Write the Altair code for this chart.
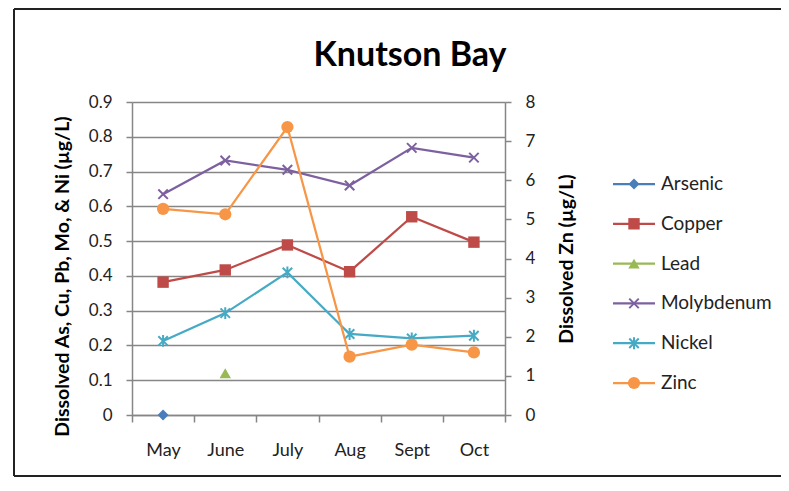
import altair as alt
import pandas as pd

# ---------------- data ----------------
months = ["May", "June", "July", "Aug", "Sept", "Oct"]
series_names = ["Arsenic", "Copper", "Lead", "Molybdenum", "Nickel", "Zinc"]
series_colors = ["#4A7EBB", "#BE4B48", "#98B954", "#7D60A0", "#46AAC5", "#F79646"]

arsenic = [0.0, None, None, None, None, None]
copper = [0.382, 0.417, 0.489, 0.412, 0.570, 0.497]
lead = [None, 0.12, None, None, None, None]
molybdenum = [0.635, 0.732, 0.705, 0.660, 0.768, 0.740]
nickel = [0.213, 0.293, 0.410, 0.233, 0.220, 0.228]
zinc = [5.27, 5.13, 7.36, 1.49, 1.80, 1.60]

left_ticks = [0, 0.1, 0.2, 0.3, 0.4, 0.5, 0.6, 0.7, 0.8, 0.9]
right_ticks = [0, 1, 2, 3, 4, 5, 6, 7, 8]

title_text = "Knutson Bay"
left_title = "Dissolved As, Cu, Pb, Mo, & Ni (µg/L)"
right_title = "Dissolved Zn (µg/L)"

values_by_series = {
    "Arsenic": arsenic, "Copper": copper, "Lead": lead,
    "Molybdenum": molybdenum, "Nickel": nickel, "Zinc": zinc,
}

rows = []
for s in series_names:
    for m, v in zip(months, values_by_series[s]):
        if v is not None:
            rows.append({"series": s, "month": m, "value": v})
df = pd.DataFrame(rows)
legend_df = pd.DataFrame({"series": series_names})
one = pd.DataFrame({"a": [0]})

X_PATH = "M-1,-1L1,1M-1,1L1,-1"
STAR_PATH = "M-1,-1L1,1M-1,1L1,-1M0,-1.25L0,1.25"
markers = {
    "Arsenic": dict(shape="diamond", filled=True, size=120),
    "Copper": dict(shape="square", filled=True, size=130),
    "Lead": dict(shape="triangle-up", filled=True, size=130),
    "Molybdenum": dict(shape=X_PATH, filled=False, size=90, strokeWidth=2),
    "Nickel": dict(shape=STAR_PATH, filled=False, size=90, strokeWidth=2),
    "Zinc": dict(shape="circle", filled=True, size=150),
}
color_of = dict(zip(series_names, series_colors))

FONT = "Lato"
GRID = "#868686"

X = alt.X(
    "month:N", sort=months,
    scale=alt.Scale(type="band", domain=months, paddingInner=0, paddingOuter=0),
    axis=alt.Axis(title=None, labelAngle=0, tickBand="extent", tickSize=7,
                  labelPadding=19, labelFontSize=18, labelColor="#222",
                  domainColor=GRID, domainWidth=1.5, tickColor=GRID, tickWidth=1.5,
                  grid=False, labelFont=FONT),
)
Y_left = alt.Y(
    "value:Q",
    scale=alt.Scale(domain=[0, 0.9], nice=False, zero=True),
    axis=alt.Axis(values=left_ticks, format=".1~f", title=left_title,
                  grid=True, gridColor=GRID, gridWidth=1.5,
                  domainColor=GRID, domainWidth=1.5, tickColor=GRID, tickWidth=1.5,
                  tickSize=6, labelPadding=14, labelFontSize=17, labelColor="#222",
                  labelFont=FONT, titleFont=FONT, titleFontSize=19.5,
                  titleFontWeight="bold", titleColor="#000", titlePadding=16,
                  titleY=174),
)
Y_right = alt.Y(
    "value:Q",
    scale=alt.Scale(domain=[0, 8], nice=False, zero=True),
    axis=alt.Axis(orient="right", values=right_ticks, title=right_title,
                  grid=False, domainColor=GRID, domainWidth=1.5,
                  tickColor=GRID, tickWidth=1.5, tickSize=6, labelPadding=14,
                  labelFontSize=17, labelColor="#222", labelFont=FONT,
                  titleFont=FONT, titleFontSize=19.5, titleFontWeight="bold",
                  titleColor="#000", titleAngle=-90, titlePadding=42),
)


def series_layers(s, Y):
    base = alt.Chart(df).transform_filter(alt.datum.series == s)
    mk = markers[s]
    line = base.mark_line(color=color_of[s], strokeWidth=2.25).encode(x=X, y=Y)
    pts = base.mark_point(
        shape=mk["shape"], filled=mk["filled"], size=mk["size"],
        color=color_of[s], opacity=1, strokeWidth=mk.get("strokeWidth", 1),
    ).encode(x=X, y=Y)
    return [line, pts]


left_layers = []
for s in ["Arsenic", "Copper", "Lead", "Molybdenum", "Nickel"]:
    left_layers += series_layers(s, Y_left)
left = alt.layer(*left_layers)
right = alt.layer(*series_layers("Zinc", Y_right))

# ---------------- legend ----------------
LY = alt.Y("series:N", sort=series_names,
           scale=alt.Scale(type="point", domain=series_names, range=[82, 281], padding=0),
           axis=None)
leg_layers = []
for s in series_names:
    lb = alt.Chart(legend_df).transform_filter(alt.datum.series == s)
    mk = markers[s]
    leg_layers.append(
        lb.mark_rule(color=color_of[s], strokeWidth=2.25).encode(
            x=alt.value(481), x2=alt.value(523), y=LY)
    )
    leg_layers.append(
        lb.mark_point(shape=mk["shape"], filled=mk["filled"], size=mk["size"],
                      color=color_of[s], opacity=1,
                      strokeWidth=mk.get("strokeWidth", 1)).encode(
            x=alt.value(502), y=LY)
    )
leg_layers.append(
    alt.Chart(legend_df).mark_text(align="left", baseline="middle", font=FONT,
                                   fontSize=19, color="#222").encode(
        x=alt.value(529), y=LY, text="series:N")
)
legend = alt.layer(*leg_layers)

# ---------------- frame & title ----------------
border_left = alt.Chart(one).mark_rule(color="#222", strokeWidth=2).encode(
    x=alt.value(-118), y=alt.value(-93), y2=alt.value(374))
border_top = alt.Chart(one).mark_rule(color="#222", strokeWidth=2).encode(
    x=alt.value(-118), x2=alt.value(700), y=alt.value(-93))
border_bottom = alt.Chart(one).mark_rule(color="#222", strokeWidth=2).encode(
    x=alt.value(-118), x2=alt.value(700), y=alt.value(374))
title = alt.Chart(one).mark_text(text=title_text, font=FONT, fontSize=34,
                                 fontWeight="bold", color="#000",
                                 align="center", baseline="alphabetic").encode(
    x=alt.value(278), y=alt.value(-36))

chart = alt.layer(
    border_left, border_top, border_bottom, title, left, right, legend
).resolve_scale(y="independent").properties(
    width=373, height=313,
    autosize=alt.AutoSizeParams(type="none"),
    padding={"left": 124, "top": 94, "right": 276, "bottom": 63},
).configure_view(stroke=None)

chart.save("out.html", embed_options={"renderer": "svg", "actions": False})
